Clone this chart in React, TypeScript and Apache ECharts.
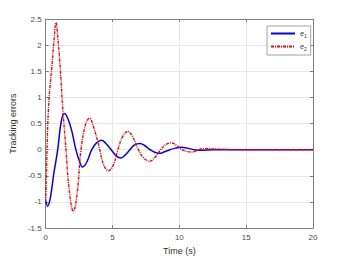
import React, { useEffect, useRef } from "react";
import * as echarts from "echarts";

// e1 (blue, solid)
const e1Time = [0, 0.15, 0.35, 0.6, 0.9, 1.15, 1.39, 1.65, 1.95, 2.26, 2.5, 2.76, 3.05, 3.45, 3.8, 4.18, 4.5, 4.9, 5.25, 5.6, 5.95, 6.3, 6.65, 7.04, 7.4, 7.8, 8.15, 8.5, 8.9, 9.3, 9.7, 10.1, 10.6, 11.1, 11.7, 12.5, 14, 16, 18, 20];
const e1Values = [-0.98, -1.08, -0.92, -0.47, 0.0, 0.52, 0.69, 0.6, 0.36, 0.0, -0.2, -0.33, -0.25, 0.0, 0.13, 0.18, 0.12, 0.0, -0.11, -0.16, -0.1, 0.0, 0.09, 0.12, 0.08, 0.0, -0.05, -0.07, -0.04, 0.0, 0.03, 0.045, 0.03, 0.0, -0.01, 0.0, 0.0, 0.0, 0.0, 0.0];

// e2 (red, dash-dot)
const e2Time = [0, 0.05, 0.12, 0.2, 0.32, 0.45, 0.6, 0.77, 0.95, 1.1, 1.28, 1.52, 1.75, 2.07, 2.35, 2.64, 3.0, 3.28, 3.6, 4.0, 4.35, 4.7, 5.05, 5.4, 5.75, 6.14, 6.5, 6.9, 7.3, 7.78, 8.2, 8.6, 9.0, 9.4, 9.8, 10.2, 10.95, 11.8, 13, 14.5, 16, 18, 20];
const e2Values = [-1.0, -0.5, 0.2, 0.75, 1.2, 1.55, 2.02, 2.43, 2.02, 1.52, 0.78, 0.0, -0.75, -1.18, -0.85, 0.0, 0.5, 0.6, 0.42, 0.05, -0.3, -0.4, -0.3, 0.0, 0.25, 0.35, 0.25, 0.02, -0.15, -0.22, -0.14, 0.0, 0.1, 0.13, 0.08, 0.0, -0.045, 0.02, 0.01, 0.0, 0.0, 0.0, 0.0];

const seriesNames = ["e1", "e2"];
const xLabel = "Time (s)";
const yLabel = "Tracking errors";

const FONT = "Liberation Sans";

export default function App() {
  const ref = useRef<HTMLDivElement>(null);
  useEffect(() => {
    if (!ref.current) return;
    const chart = echarts.init(ref.current, undefined, { renderer: "svg" });
    const axisColor = "#808080";
    const grid = { left: 45, right: 33, top: 19, bottom: 29 };
    chart.setOption({
      animation: false,
      backgroundColor: "#fff",
      grid,
      legend: {
        orient: "vertical",
        left: 267,
        top: 26,
        padding: [4, 4, 4, 3],
        itemGap: 5,
        itemWidth: 24,
        itemHeight: 8,
        backgroundColor: "#fff",
        borderColor: "#8a8a8a",
        borderWidth: 0.8,
        borderRadius: 0,
        itemStyle: { opacity: 0 },
        data: seriesNames,
        formatter: (name: string) => `{e|e}{s|${name.slice(1)}}`,
        textStyle: {
          fontFamily: FONT,
          color: "#333",
          rich: {
            e: { fontSize: 7, fontStyle: "italic", fontFamily: FONT, color: "#333" },
            s: { fontSize: 5, fontFamily: FONT, color: "#333", padding: [4, 0, 0, 0] },
          },
        },
      },
      xAxis: [
        {
          type: "value",
          min: 0,
          max: 20,
          interval: 5,
          name: xLabel,
          nameLocation: "middle",
          nameGap: 17,
          nameTextStyle: { fontFamily: FONT, fontSize: 9, color: "#333" },
          axisLine: { show: true, onZero: false, lineStyle: { color: axisColor, width: 1 } },
          axisTick: { show: true, inside: true, length: 3, lineStyle: { color: axisColor } },
          axisLabel: { fontFamily: FONT, fontSize: 8, color: "#4a4a4a", margin: 5 },
          splitLine: { show: true, lineStyle: { color: "#e8e8e8", width: 1 } },
        },
        {
          type: "value",
          position: "top",
          min: 0,
          max: 20,
          interval: 5,
          axisLine: { show: true, onZero: false, lineStyle: { color: axisColor, width: 1 } },
          axisTick: { show: true, inside: true, length: 3, lineStyle: { color: axisColor } },
          axisLabel: { show: false },
          splitLine: { show: false },
        },
      ],
      yAxis: [
        {
          type: "value",
          min: -1.5,
          max: 2.5,
          interval: 0.5,
          name: yLabel,
          nameLocation: "middle",
          nameGap: 18,
          nameTextStyle: { fontFamily: FONT, fontSize: 9, color: "#333" },
          axisLine: { show: true, onZero: false, lineStyle: { color: axisColor, width: 1 } },
          axisTick: { show: true, inside: true, length: 3, lineStyle: { color: axisColor } },
          axisLabel: { fontFamily: FONT, fontSize: 8, color: "#4a4a4a", margin: 4 },
          splitLine: { show: true, lineStyle: { color: "#e8e8e8", width: 1 } },
        },
        {
          type: "value",
          position: "right",
          min: -1.5,
          max: 2.5,
          interval: 0.5,
          axisLine: { show: true, onZero: false, lineStyle: { color: axisColor, width: 1 } },
          axisTick: { show: true, inside: true, length: 3, lineStyle: { color: axisColor } },
          axisLabel: { show: false },
          splitLine: { show: false },
        },
      ],
      series: [
        {
          name: seriesNames[0],
          type: "line",
          xAxisIndex: 0,
          yAxisIndex: 0,
          smooth: 0.4,
          showSymbol: false,
          symbol: "none",
          lineStyle: { color: "#0000ff", width: 1.5 },
          itemStyle: { color: "#0000ff" },
          data: e1Time.map((t, i) => [t, e1Values[i]]),
          z: 3,
        },
        {
          name: seriesNames[1],
          type: "line",
          xAxisIndex: 0,
          yAxisIndex: 0,
          smooth: 0.4,
          showSymbol: false,
          symbol: "none",
          lineStyle: { color: "#ff0000", width: 1.4, type: [3, 1, 1, 1] },
          itemStyle: { color: "#ff0000" },
          data: e2Time.map((t, i) => [t, e2Values[i]]),
          z: 4,
        },
      ],
    });
    return () => chart.dispose();
  }, []);
  return <div ref={ref} style={{ width: 346, height: 260, position: "absolute", left: 0, top: 0 }} />;
}
